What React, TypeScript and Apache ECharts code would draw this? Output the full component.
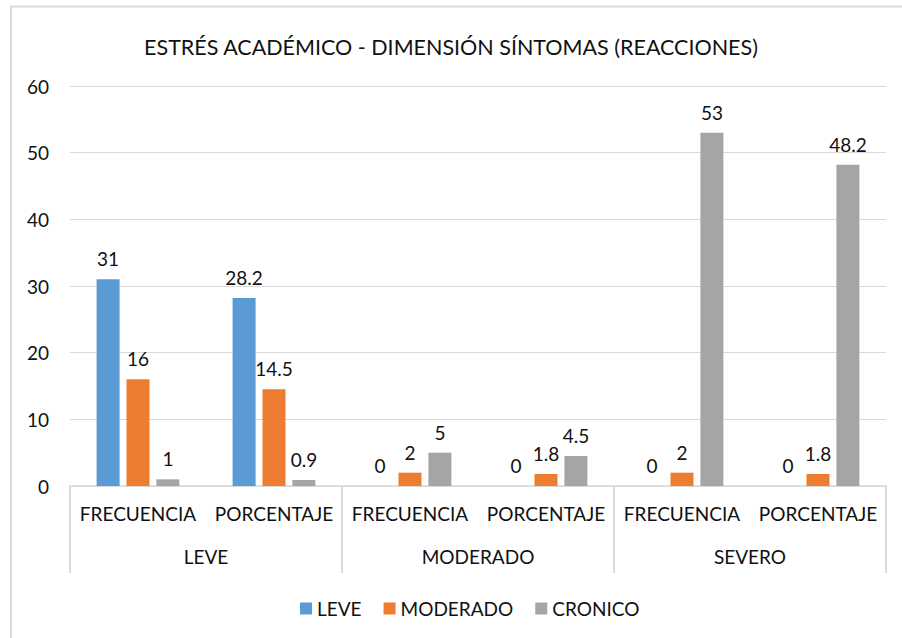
import React, { useEffect, useRef } from "react";
import * as echarts from "echarts";

const title = "ESTRÉS ACADÉMICO - DIMENSIÓN SÍNTOMAS (REACCIONES)";
const subCategories = ["FRECUENCIA", "PORCENTAJE", "FRECUENCIA", "PORCENTAJE", "FRECUENCIA", "PORCENTAJE"];
const groupCategories = ["LEVE", "MODERADO", "SEVERO"];
const seriesNames = ["LEVE", "MODERADO", "CRONICO"];
const leveValues = [31, 28.2, 0, 0, 0, 0];
const moderadoValues = [16, 14.5, 2, 1.8, 2, 1.8];
const cronicoValues = [1, 0.9, 5, 4.5, 53, 48.2];
const yTicks = { min: 0, max: 60, interval: 10 };

const colors = ["#5B9BD5", "#ED7D31", "#A5A5A5"];
const FONT = "Lato";
const TXT = "#111111";

export default function App() {
  const ref = useRef<HTMLDivElement>(null);
  useEffect(() => {
    if (!ref.current) return;
    const chart = echarts.init(ref.current, undefined, { renderer: "svg" });
    const values = [leveValues, moderadoValues, cronicoValues];
    chart.setOption({
      animation: false,
      backgroundColor: "#ffffff",
      textStyle: { fontFamily: FONT },
      color: colors,
      title: {
        text: title,
        left: "center",
        top: 31,
        textStyle: { fontFamily: FONT, fontSize: 21.5, fontWeight: "normal", color: TXT },
      },
      graphic: [
        {
          type: "rect",
          shape: { x: 11, y: 6.5, width: 1000, height: 1000 },
          style: { fill: "none", stroke: "#d9d9d9", lineWidth: 2 },
          silent: true,
        },
      ],
      legend: {
        left: 295,
        top: 594,
        itemWidth: 12,
        itemHeight: 12,
        itemGap: 22,
        icon: "rect",
        textStyle: { fontFamily: FONT, fontSize: 19, color: TXT },
        data: seriesNames,
      },
      grid: { left: 70, right: 16, top: 86, bottom: 152, containLabel: false },
      xAxis: [
        {
          type: "category",
          data: subCategories,
          position: "bottom",
          axisLine: { show: true, lineStyle: { color: "#d9d9d9", width: 1.5 } },
          axisTick: { show: false },
          axisLabel: { margin: 18, fontFamily: FONT, fontSize: 19, color: TXT, interval: 0 },
        },
        {
          type: "category",
          data: groupCategories,
          position: "bottom",
          axisLine: { show: false },
          axisTick: { show: true, length: 87, lineStyle: { color: "#d9d9d9", width: 2 } },
          axisLabel: { margin: 61, fontFamily: FONT, fontSize: 19, color: TXT, interval: 0 },
        },
      ],
      yAxis: {
        type: "value",
        min: yTicks.min,
        max: yTicks.max,
        interval: yTicks.interval,
        axisLine: { show: false },
        axisTick: { show: false },
        axisLabel: { margin: 21, fontFamily: FONT, fontSize: 19, color: TXT },
        splitLine: { lineStyle: { color: "#d9d9d9", width: 1 } },
      },
      series: seriesNames.map((name, i) => ({
        name,
        type: "bar",
        xAxisIndex: 0,
        data: values[i],
        barWidth: 23,
        barGap: "30%",
        itemStyle: { color: colors[i] },
        label: {
          show: true,
          position: "top",
          distance: 11,
          fontFamily: FONT,
          fontSize: 19,
          color: TXT,
        },
      })),
    });
    return () => chart.dispose();
  }, []);
  return (
    <div
      ref={ref}
      style={{ position: "absolute", left: 0, top: 0, width: 902, height: 638 }}
    />
  );
}
